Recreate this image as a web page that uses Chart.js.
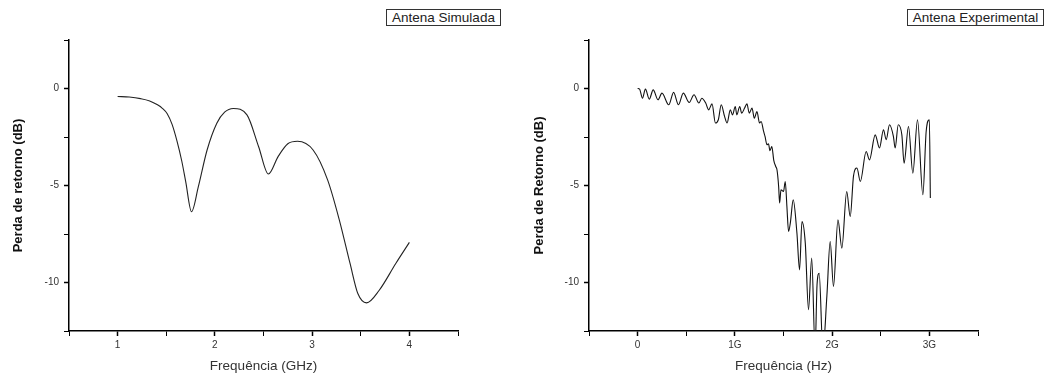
<!DOCTYPE html>
<html>
<head>
<meta charset="utf-8">
<script src="https://cdn.jsdelivr.net/npm/chart.js@4"></script>
<style>
  html, body { margin: 0; padding: 0; background: #fff; }
  #wrap { position: relative; width: 1051px; height: 374px; overflow: hidden; }
  canvas { position: absolute; top: 0; }
  .leg { position: absolute; top: 9px; height: 17px; box-sizing: border-box; border: 1px solid #333;
         font-family: "Liberation Sans", Arial, sans-serif; font-size: 13.5px; line-height: 15px;
         color: #222; text-align: center; background: #fff; }
</style>
</head>
<body>
<div id="wrap">
  <canvas id="c1" width="525" height="374" style="left:0px"></canvas>
  <canvas id="c2" width="525" height="374" style="left:526px"></canvas>
  <div class="leg" style="left:386px; width:115px;">Antena Simulada</div>
  <div class="leg" style="left:907px; width:137px;">Antena Experimental</div>
</div>
<script>
// Simulated antenna: frequency (GHz) and return loss (dB)
const simFreq = [1.00, 1.12, 1.235, 1.33, 1.41, 1.46, 1.51, 1.56, 1.61, 1.66, 1.70, 1.76, 1.83, 1.92, 2.02, 2.10, 2.19, 2.33, 2.45, 2.55, 2.65, 2.75, 2.85, 3.01, 3.16, 3.28, 3.39, 3.47, 3.56, 3.69, 3.86, 4.00];
const simLoss = [-0.41, -0.44, -0.52, -0.64, -0.84, -1.02, -1.30, -1.85, -2.70, -3.75, -4.80, -6.35, -5.06, -3.17, -1.79, -1.22, -1.03, -1.36, -3.00, -4.41, -3.51, -2.85, -2.72, -3.17, -4.72, -6.78, -9.02, -10.57, -11.05, -10.40, -9.02, -7.93];

// Experimental antenna: frequency (GHz) and return loss (dB)
const expFreq = [0.00, 0.02, 0.05, 0.08, 0.12, 0.16, 0.21, 0.25, 0.32, 0.37, 0.42, 0.47, 0.53, 0.58, 0.63, 0.66, 0.70, 0.73, 0.765, 0.80, 0.83, 0.86, 0.894, 0.92, 0.953, 0.976, 1.004, 1.02, 1.05, 1.07, 1.10, 1.124, 1.148, 1.176, 1.20, 1.227, 1.254, 1.27, 1.295, 1.31, 1.33, 1.346, 1.36, 1.38, 1.40, 1.42, 1.433, 1.45, 1.46, 1.474, 1.50, 1.518, 1.535, 1.552, 1.57, 1.60, 1.638, 1.665, 1.69, 1.724, 1.757, 1.79, 1.825, 1.845, 1.867, 1.905, 1.946, 1.98, 2.014, 2.06, 2.10, 2.15, 2.186, 2.22, 2.255, 2.29, 2.35, 2.384, 2.443, 2.487, 2.528, 2.556, 2.59, 2.63, 2.648, 2.68, 2.717, 2.74, 2.785, 2.83, 2.878, 2.933, 2.967, 3.00, 3.01];
const expLoss = [0.00, -0.03, -0.50, -0.03, -0.55, -0.07, -0.58, -0.24, -0.84, -0.20, -0.84, -0.24, -0.72, -0.32, -0.75, -0.50, -0.75, -1.10, -0.79, -1.78, -1.61, -0.84, -1.44, -1.78, -1.10, -1.36, -0.93, -1.36, -0.93, -1.27, -1.01, -0.79, -1.27, -1.01, -1.53, -1.19, -1.78, -1.70, -2.20, -2.47, -2.90, -2.85, -3.20, -2.99, -3.70, -4.02, -4.19, -5.05, -5.90, -5.22, -5.31, -4.79, -6.08, -7.37, -6.94, -5.74, -7.45, -9.35, -6.86, -7.97, -11.40, -8.74, -13.50, -10.10, -9.52, -13.50, -10.70, -7.89, -10.20, -6.77, -8.23, -5.31, -6.60, -4.50, -4.10, -4.79, -3.25, -3.68, -2.39, -3.07, -2.13, -2.64, -1.87, -2.47, -3.07, -1.87, -2.39, -3.85, -1.96, -4.36, -1.61, -5.48, -2.22, -1.61, -5.65];

const yMajor = [0, -5, -10];

const FONT = '"Liberation Sans", Arial, sans-serif';

function pts(xs, ys) { return xs.map((x, i) => ({x: x, y: ys[i]})); }

function makeChart(id, opts) {
  const isMajorX = v => Math.abs(v - Math.round(v)) < 1e-6;
  return new Chart(document.getElementById(id), {
    type: 'line',
    data: {
      datasets: [{
        data: pts(opts.xs, opts.ys),
        borderColor: opts.color,
        borderWidth: opts.lineWidth,
        pointRadius: 0,
        fill: false,
        cubicInterpolationMode: 'monotone'
      }]
    },
    options: {
      responsive: false,
      animation: false,
      events: [],
      layout: { padding: { left: 0, top: 40, right: opts.padRight, bottom: 0 } },
      plugins: { legend: { display: false }, tooltip: { enabled: false } },
      scales: {
        x: {
          type: 'linear',
          min: opts.xMin, max: opts.xMax,
          afterFit: s => { s.height = 43; },
          afterBuildTicks: s => {
            const t = [];
            for (let v = opts.xMin; v <= opts.xMax + 1e-9; v += 0.5) t.push({value: Math.round(v * 10) / 10});
            s.ticks = t;
          },
          border: { display: true, color: '#000', width: 1.5 },
          grid: { drawOnChartArea: false, drawTicks: true, tickLength: 5, tickColor: '#000',
                  tickWidth: c => (c.tick && isMajorX(c.tick.value)) ? 1.5 : 1 },
          ticks: {
            autoSkip: false, maxRotation: 0, padding: 3, color: '#333',
            font: { family: FONT, size: 10 },
            callback: v => isMajorX(v) ? opts.xLabel(Math.round(v)) : ''
          },
          title: { display: true, text: opts.xTitle, color: '#333',
                   font: { family: FONT, size: 13.5 }, padding: { top: 0, bottom: 0 } }
        },
        y: {
          type: 'linear',
          min: -12.5, max: 2.5,
          afterFit: s => { s.width = opts.yWidth; },
          afterBuildTicks: s => {
            const t = [];
            for (let v = -12.5; v <= 2.5 + 1e-9; v += 2.5) t.push({value: v});
            s.ticks = t;
          },
          border: { display: true, color: '#000', width: 1.5 },
          grid: { drawOnChartArea: false, drawTicks: true, tickLength: 5, tickColor: '#000',
                  tickWidth: c => (c.tick && yMajor.includes(c.tick.value)) ? 1.5 : 1 },
          ticks: {
            autoSkip: false, padding: 5, color: '#333',
            font: { family: FONT, size: 10 },
            callback: v => yMajor.includes(v) ? String(v) : ''
          },
          title: { display: true, text: opts.yTitle, color: '#111',
                   font: { family: FONT, size: 13, weight: 'bold' }, padding: { top: opts.yTitlePad, bottom: 0 } }
        }
      }
    }
  });
}

makeChart('c1', {
  xs: simFreq, ys: simLoss, color: '#222', lineWidth: 1.1,
  xMin: 0.5, xMax: 4.5, padRight: 67, yWidth: 69, yTitlePad: 11,
  xTitle: 'Frequência (GHz)', yTitle: 'Perda de retorno (dB)',
  xLabel: v => String(v)
});

makeChart('c2', {
  xs: expFreq, ys: expLoss, color: '#111', lineWidth: 1.1,
  xMin: -0.5, xMax: 3.5, padRight: 73, yWidth: 63, yTitlePad: 5.5,
  xTitle: 'Frequência (Hz)', yTitle: 'Perda de Retorno (dB)',
  xLabel: v => v === 0 ? '0' : v + 'G'
});
</script>
</body>
</html>
